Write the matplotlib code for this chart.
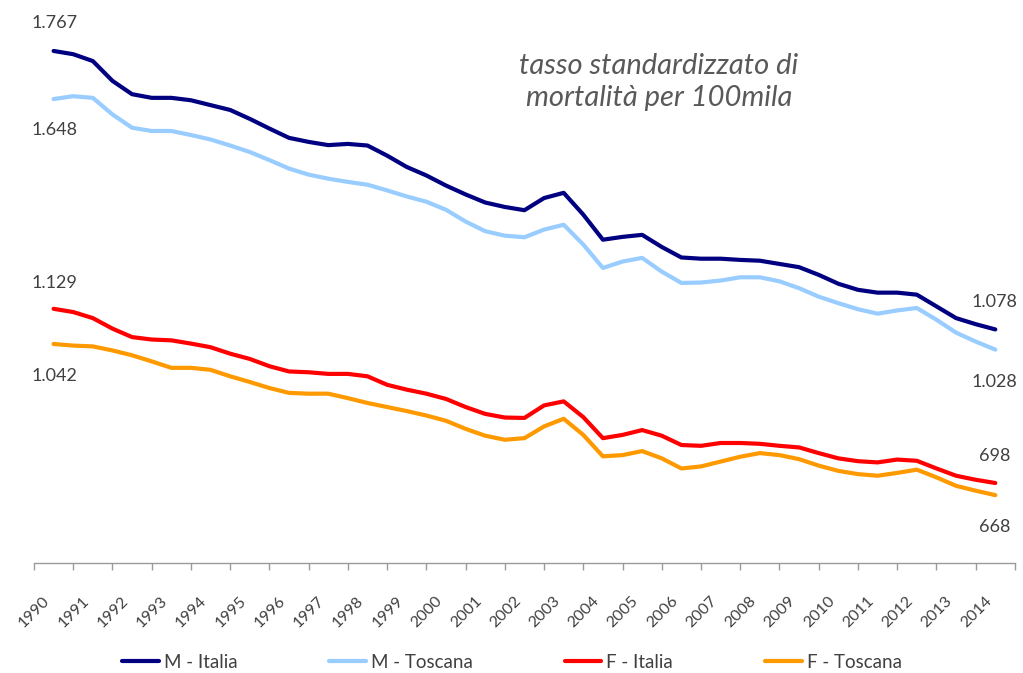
import numpy as np
import matplotlib
matplotlib.use('Agg')
import matplotlib.pyplot as plt
import matplotlib.ticker as mticker

plt.rcParams['font.family'] = ['Lato', 'DejaVu Sans']

# semesters 1990 .. 2014 (x in years)
periodi = np.arange(1990, 2014.01, 0.5)
anni = list(range(1990, 2015))

m_italia = [1767, 1759, 1742, 1693, 1660, 1651, 1651, 1645, 1633, 1621,
            1599, 1575, 1552, 1542, 1534, 1537, 1533, 1508, 1480, 1459,
            1434, 1412, 1392, 1381, 1373, 1403, 1416, 1362, 1300, 1307,
            1312, 1282, 1256, 1253, 1253, 1250, 1248, 1240, 1232, 1213,
            1191, 1176, 1169, 1169, 1164, 1135, 1106, 1091, 1078]
m_toscana = [1648, 1655, 1651, 1610, 1577, 1569, 1569, 1559, 1548, 1533,
             1517, 1497, 1476, 1461, 1451, 1443, 1436, 1422, 1407, 1394,
             1374, 1345, 1321, 1310, 1306, 1325, 1337, 1288, 1230, 1246,
             1255, 1221, 1193, 1194, 1199, 1207, 1207, 1197, 1180, 1159,
             1143, 1128, 1117, 1125, 1131, 1102, 1070, 1048, 1028]
f_italia = [1129, 1121, 1106, 1080, 1059, 1053, 1051, 1043, 1034, 1018,
            1005, 987, 974, 972, 968, 968, 962, 941, 929, 919,
            906, 886, 869, 860, 859, 890, 900, 861, 809, 817,
            829, 815, 792, 790, 797, 797, 795, 790, 786, 772,
            759, 752, 749, 756, 753, 734, 716, 706, 698]
f_toscana = [1042, 1038, 1036, 1026, 1014, 999, 983, 983, 978, 962,
             948, 933, 921, 919, 919, 908, 896, 886, 876, 865,
             852, 832, 815, 805, 809, 838, 857, 817, 764, 767,
             777, 759, 734, 739, 751, 763, 772, 767, 757, 741,
             728, 720, 716, 723, 731, 712, 691, 679, 668]

serie = [('M - Italia', m_italia, '#000080'),
         ('M - Toscana', m_toscana, '#99CCFF'),
         ('F - Italia', f_italia, '#FF0000'),
         ('F - Toscana', f_toscana, '#FF9900')]

fig = plt.figure(figsize=(10.23, 6.73), dpi=100)
ax = fig.add_axes([0.0332, 0.1634, 0.9589, 0.7807])

for nome, valori, colore in serie:
    ax.plot(periodi, valori, color=colore, lw=3, label=nome,
            solid_joinstyle='round', solid_capstyle='round')

ax.set_xlim(1989.5, 2014.5)
ax.set_ylim(500, 1800)

for s in ['top', 'right', 'left']:
    ax.spines[s].set_visible(False)
ax.spines['bottom'].set_color('#9A9A9A')
ax.spines['bottom'].set_linewidth(1)
ax.set_yticks([])

# category boundaries as tick marks, labels inside each category
ax.xaxis.set_minor_locator(mticker.FixedLocator(np.arange(1989.5, 2015, 1.0)))
ax.tick_params(axis='x', which='minor', length=5, width=1, color='#9A9A9A',
               direction='out')
ax.set_xticks(np.array(anni) - 0.15)
ax.set_xticklabels([str(a) for a in anni], rotation=45, ha='right',
                   va='center', rotation_mode='anchor', fontsize=11.5,
                   color='#404040')
ax.tick_params(axis='x', which='major', length=0, pad=26)

# start / end labels
testo = dict(fontsize=13, color='#404040', va='center')
ax.annotate('1.767', xy=(32, 673 - 23), xycoords='figure pixels', **testo)
ax.annotate('1.648', xy=(32, 673 - 130), xycoords='figure pixels', **testo)
ax.annotate('1.129', xy=(32, 673 - 283), xycoords='figure pixels', **testo)
ax.annotate('1.042', xy=(32, 673 - 376), xycoords='figure pixels', **testo)
ax.annotate('1.078', xy=(1017, 673 - 302), xycoords='figure pixels', ha='right', **testo)
ax.annotate('1.028', xy=(1017, 673 - 382), xycoords='figure pixels', ha='right', **testo)
ax.annotate('698', xy=(1010, 673 - 456), xycoords='figure pixels', ha='right', **testo)
ax.annotate('668', xy=(1010, 673 - 527), xycoords='figure pixels', ha='right', **testo)

fig.text(659 / 1023, 1 - 82 / 673, 'tasso standardizzato di\nmortalità per 100mila',
         ha='center', va='center', fontsize=21, style='italic', color='#595959',
         linespacing=1.32)

fig.legend(loc='center', bbox_to_anchor=(512 / 1023, 1 - 662 / 673), ncol=4,
           frameon=False, fontsize=13.5, handlelength=1.95, handletextpad=0.27,
           columnspacing=4.9, labelcolor='#404040')

fig.savefig('out.png', dpi=100)
